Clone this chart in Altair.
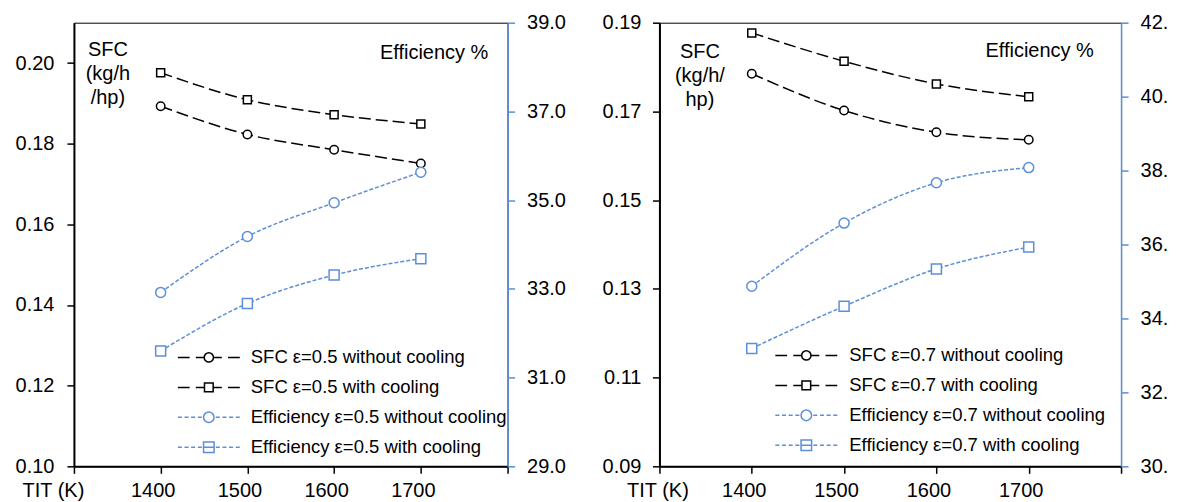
import altair as alt
import pandas as pd

# ---------------- data ----------------
TIT = [1400, 1500, 1600, 1700]

# left panel, effectiveness 0.5
sfc05_nocool = [0.1893, 0.1823, 0.1785, 0.1751]
sfc05_cool = [0.1976, 0.1909, 0.1872, 0.1849]
eff05_nocool = [32.92, 34.18, 34.94, 35.63]
eff05_cool = [31.60, 32.67, 33.31, 33.68]

# right panel, effectiveness 0.7
sfc07_nocool = [0.1785, 0.1702, 0.1653, 0.1636]
sfc07_cool = [0.1877, 0.1813, 0.1762, 0.1733]
eff07_nocool = [34.87, 36.58, 37.67, 38.08]
eff07_cool = [33.19, 34.33, 35.34, 35.93]

x_ticks = [1300, 1400, 1500, 1600, 1700, 1800]
sfc05_ticks = [0.10, 0.12, 0.14, 0.16, 0.18, 0.20]
eff05_ticks = [29, 31, 33, 35, 37, 39]
sfc07_ticks = [0.09, 0.11, 0.13, 0.15, 0.17, 0.19]
eff07_ticks = [30, 32, 34, 36, 38, 40, 42]

# ---------------- styles ----------------
BLACK = "#000000"
BLUE = "#5B8FD8"
FONT = "Liberation Sans"


def seg(a, b):
    return f"M{a:.3f},0H{b:.3f}"


def circle(r):
    return f"M{r},0A{r},{r} 0 1,1 {-r},0A{r},{r} 0 1,1 {r},0"


def square(h):
    return f"M{-h},{-h}H{h}V{h}H{-h}Z"


def blue_dashes(r):
    s = ""
    a = -1.0
    while a + 0.12 < -r:
        s += seg(a, a + 0.13) + seg(-a - 0.13, -a)
        a += 0.215
    return s


black_line_c = seg(-1, -0.62) + seg(-0.42, -0.15) + seg(0.15, 0.42) + seg(0.62, 1)
black_line_s = seg(-1, -0.62) + seg(-0.42, -0.14) + seg(0.14, 0.42) + seg(0.62, 1)
LEGEND_PATHS = [
    black_line_c + circle(0.15),
    black_line_s + square(0.14),
    blue_dashes(0.17) + circle(0.17),
    blue_dashes(0.17) + square(0.17) + seg(-0.17, 0.17),
]


def make_df(eps, series_values):
    names = [
        f"SFC ε={eps} without cooling",
        f"SFC ε={eps} with cooling",
        f"Efficiency ε={eps} without cooling",
        f"Efficiency ε={eps} with cooling",
    ]
    rows = []
    for name, vals in zip(names, series_values):
        for t, v in zip(TIT, vals):
            rows.append({"tit": t, "value": v, "series": name})
    return names, pd.DataFrame(rows)


def panel(eps, series_values, sfc_dom, sfc_vals, eff_dom, eff_vals, eff_expr,
          width, L):
    names, df = make_df(eps, series_values)
    xs = alt.Scale(domain=[1300, 1800], nice=False, zero=False)
    xaxis = alt.Axis(
        values=x_ticks,
        labelExpr="datum.value == 1300 || datum.value == 1800 ? '' : format(datum.value, 'd')",
        title="TIT (K)", titleX=L["titx"], titleY=14.5, titleAlign="center",
        titleBaseline="top", titleAngle=0,
        labelOffset=-8, labelPadding=7, tickSize=7, tickWidth=1.5,
        domainWidth=2, domainColor=BLACK, tickColor=BLACK, grid=False,
    )
    sfc_axis = alt.Axis(
        orient="left", values=sfc_vals, format=".2f",
        title=L["sfc_title"], titleX=L["sfcx"], titleY=L["sfcy"], titleAngle=0,
        titleAlign="center", titleBaseline="top", titleLineHeight=24,
        tickSize=7, tickWidth=1.5, labelPadding=L["lpad"], domainWidth=2,
        domainColor=BLACK, tickColor=BLACK, grid=False,
    )
    eff_axis = alt.Axis(
        orient="right", values=eff_vals, labelExpr=eff_expr,
        title="Efficiency %", titleX=L["effx"], titleY=L["effy"], titleAngle=0,
        titleAlign="center", titleBaseline="top",
        tickSize=7, tickWidth=1.5, labelPadding=12, domainWidth=1.5,
        domainColor=BLUE, tickColor=BLUE, grid=False,
    )
    sfc_scale = alt.Scale(domain=sfc_dom, nice=False, zero=False)
    eff_scale = alt.Scale(domain=eff_dom, nice=False, zero=False)

    def line_pts(name, axis, scale, color, dash, shape, size):
        base = alt.Chart(df).transform_filter(alt.datum.series == name)
        enc = dict(
            x=alt.X("tit:Q", scale=xs, axis=xaxis),
            y=alt.Y("value:Q", scale=scale, axis=axis),
        )
        line = base.mark_line(color=color, strokeDash=dash, strokeWidth=1.5,
                              interpolate="monotone").encode(**enc)
        pts = base.mark_point(shape=shape, size=size, filled=True, fill="white",
                              stroke=color, strokeWidth=1.5,
                              opacity=1).encode(**enc)
        return [line, pts]

    sfc_layer = alt.layer(
        *line_pts(names[0], sfc_axis, sfc_scale, BLACK, [12, 5], "circle", 72),
        *line_pts(names[1], sfc_axis, sfc_scale, BLACK, [12, 5], "square", 64),
    )
    eff_layer = alt.layer(
        *line_pts(names[2], eff_axis, eff_scale, BLUE, [4, 2], "circle", 100),
        *line_pts(names[3], eff_axis, eff_scale, BLUE, [4, 2], "square", 100),
    )
    leg = alt.Legend(
        title=None, orient="none", legendX=L["legx"], legendY=L["legy"],
        symbolSize=3844, symbolStrokeWidth=1.5, symbolOpacity=1,
        labelFont=FONT, labelFontSize=18.5, labelColor="black",
        labelOffset=L["loff"], labelLimit=500, clipHeight=30, rowPadding=0,
        padding=0,
    )
    legend_layer = alt.Chart(df).transform_filter("datum.value < 0").mark_point(
        filled=False, opacity=1, strokeWidth=1.5
    ).encode(
        x=alt.X("tit:Q", scale=xs, axis=xaxis),
        shape=alt.Shape("series:N", scale=alt.Scale(domain=names, range=LEGEND_PATHS), legend=leg),
        color=alt.Color("series:N", scale=alt.Scale(domain=names, range=[BLACK, BLACK, BLUE, BLUE]), legend=leg),
    )
    return alt.layer(sfc_layer, eff_layer, legend_layer).resolve_scale(
        y="independent"
    ).properties(width=width, height=444)


left = panel(
    0.5, [sfc05_nocool, sfc05_cool, eff05_nocool, eff05_cool],
    [0.10, 0.21], sfc05_ticks, [29, 39], eff05_ticks,
    "format(datum.value, '.1f')", 434,
    dict(titx=-21, sfc_title=["SFC", "(kg/h", "/hp)"], sfcx=33.5, sfcy=17,
         lpad=13, effx=-74, effy=20.3, legx=103, legy=320, loff=10),
)
right = panel(
    0.7, [sfc07_nocool, sfc07_cool, eff07_nocool, eff07_cool],
    [0.09, 0.19], sfc07_ticks, [30, 42], eff07_ticks,
    "format(datum.value, '.0f') + '.'", 462,
    dict(titx=-2, sfc_title=["SFC", "(kg/h/", "hp)"], sfcx=40, sfcy=19.3,
         lpad=11.5, effx=-82, effy=18, legx=115, legy=318, loff=11),
)

chart = alt.hconcat(left, right, spacing=152, bounds="flush").resolve_scale(
    color="independent", shape="independent"
).resolve_legend(
    color="independent", shape="independent"
).properties(
    padding={"left": 14, "top": 11.5, "right": 9, "bottom": 0}
).configure(
    font=FONT
).configure_axis(
    labelFont=FONT, titleFont=FONT, labelFontSize=20, titleFontSize=20,
    labelColor="black", titleColor="black", titleFontWeight="normal",
).configure_view(
    stroke="black", strokeWidth=1
)

chart.save("out.html", embed_options={"renderer": "svg", "actions": False})
